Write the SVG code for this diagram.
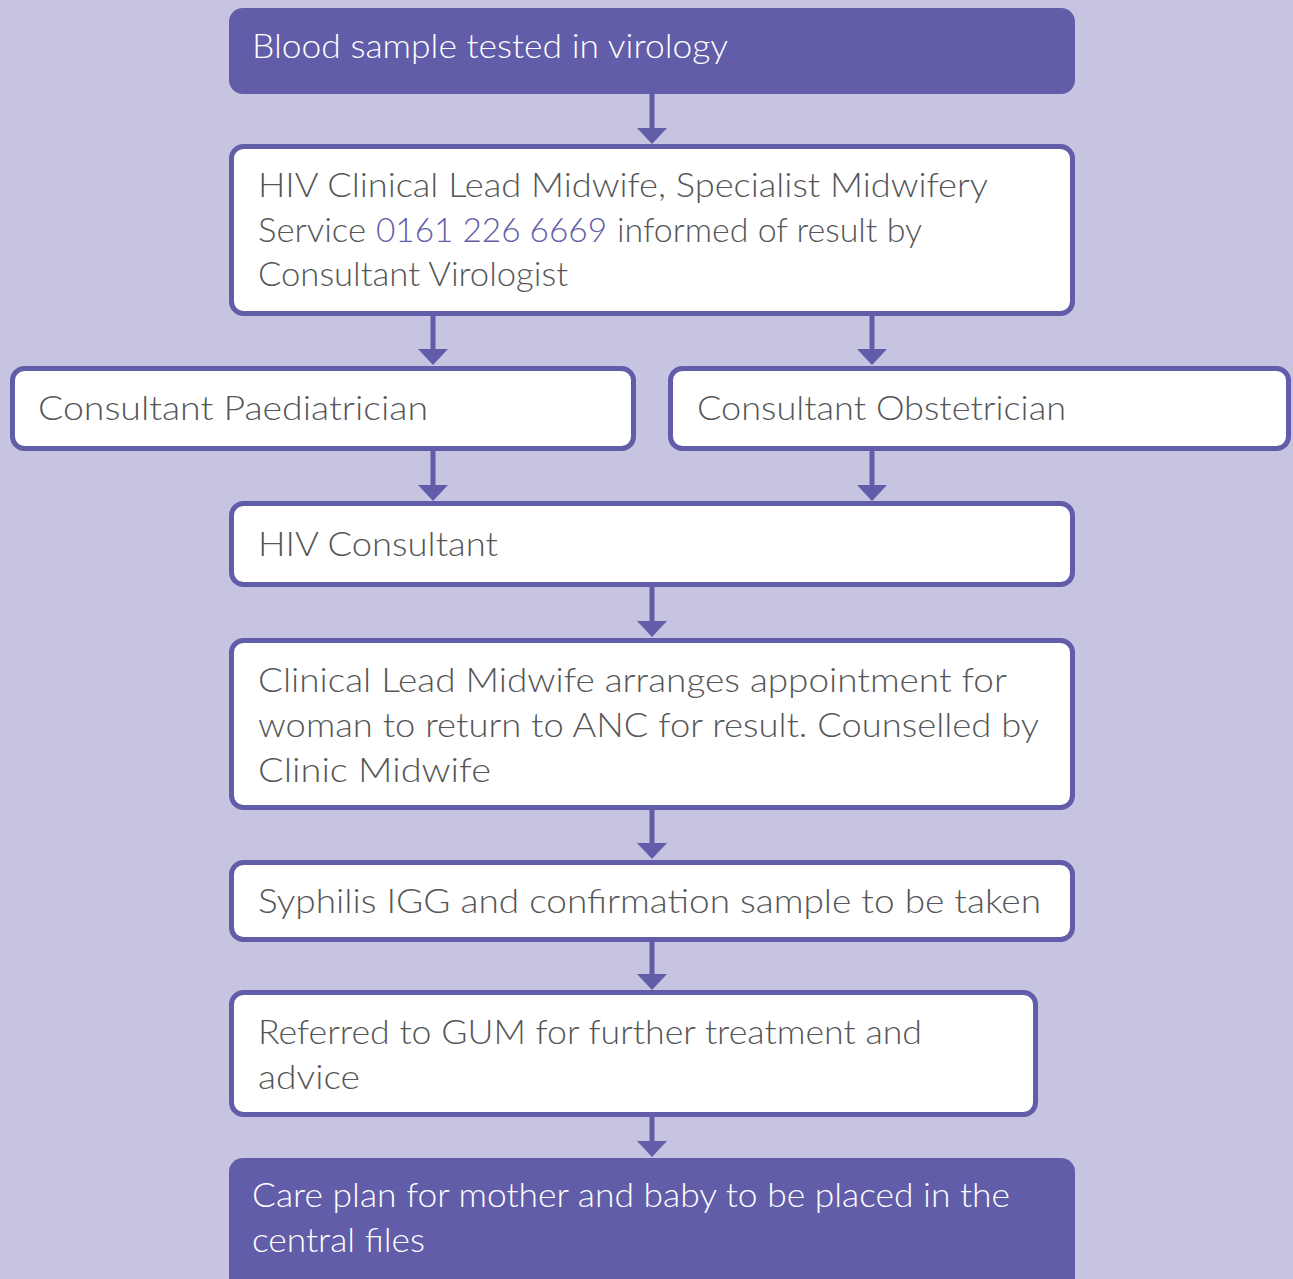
<svg xmlns="http://www.w3.org/2000/svg" width="1293" height="1279" viewBox="0 0 1293 1279">
  <style>
    .box { fill: #ffffff; stroke: #625DA9; stroke-width: 5; }
    .solid { fill: #625DA9; }
    .t { font-family: Lato, "Open Sans", "Liberation Sans", sans-serif; font-size: 33px; font-weight: 300; fill: #555658; }
    .tw { font-family: Lato, "Open Sans", "Liberation Sans", sans-serif; font-size: 33px; font-weight: 300; fill: #ffffff; }
    .num { fill: #625DA9; }
    .stem { stroke: #625DA9; stroke-width: 5; fill: none; }
    .head { fill: #625DA9; }
  </style>
  <rect width="1293" height="1279" fill="#C6C4E1"/>

  <g id="connectors">
    <!-- arrow: stem then triangular head, tip at the next box -->
    <path class="stem" d="M652 94V130"/><polygon class="head" points="637,128 667,128 652,144"/>
    <path class="stem" d="M433 316V351"/><polygon class="head" points="418,349 448,349 433,365"/>
    <path class="stem" d="M872 316V351"/><polygon class="head" points="857,349 887,349 872,365"/>
    <path class="stem" d="M433 451V487"/><polygon class="head" points="418,485 448,485 433,501"/>
    <path class="stem" d="M872 451V487"/><polygon class="head" points="857,485 887,485 872,501"/>
    <path class="stem" d="M652 587V623"/><polygon class="head" points="637,621 667,621 652,637"/>
    <path class="stem" d="M652 810V845"/><polygon class="head" points="637,843 667,843 652,859"/>
    <path class="stem" d="M652 942V976"/><polygon class="head" points="637,974 667,974 652,990"/>
    <path class="stem" d="M652 1108V1143"/><polygon class="head" points="637,1141 667,1141 652,1157"/>
  </g>

  <g id="blood-sample">
    <rect class="solid" x="229" y="8" width="846" height="86" rx="14"/>
    <text class="tw" x="252" y="58" textLength="476" lengthAdjust="spacingAndGlyphs">Blood sample tested in virology</text>
  </g>

  <g id="clinical-lead-informed">
    <rect class="box" x="231.5" y="146.5" width="841" height="167" rx="12"/>
    <text class="t" x="258" y="197" textLength="730" lengthAdjust="spacingAndGlyphs">HIV Clinical Lead Midwife, Specialist Midwifery</text>
    <text class="t" y="242"><tspan x="258" textLength="108" lengthAdjust="spacingAndGlyphs">Service</tspan><tspan class="num" x="376" textLength="231" lengthAdjust="spacingAndGlyphs">0161 226 6669</tspan><tspan x="617" textLength="305" lengthAdjust="spacingAndGlyphs">informed of result by</tspan></text>
    <text class="t" x="258" y="286" textLength="310" lengthAdjust="spacingAndGlyphs">Consultant Virologist</text>
  </g>

  <g id="paediatrician">
    <rect class="box" x="12.5" y="368.5" width="621" height="80" rx="12"/>
    <text class="t" x="38" y="420" textLength="390" lengthAdjust="spacingAndGlyphs">Consultant Paediatrician</text>
  </g>

  <g id="obstetrician">
    <rect class="box" x="670.5" y="368.5" width="618" height="80" rx="12"/>
    <text class="t" x="697" y="420" textLength="369" lengthAdjust="spacingAndGlyphs">Consultant Obstetrician</text>
  </g>

  <g id="hiv-consultant">
    <rect class="box" x="231.5" y="503.5" width="841" height="81" rx="12"/>
    <text class="t" x="258" y="556" textLength="240" lengthAdjust="spacingAndGlyphs">HIV Consultant</text>
  </g>

  <g id="appointment">
    <rect class="box" x="231.5" y="640.5" width="841" height="167" rx="12"/>
    <text class="t" x="258" y="692" textLength="749" lengthAdjust="spacingAndGlyphs">Clinical Lead Midwife arranges appointment for</text>
    <text class="t" x="258" y="737" textLength="781" lengthAdjust="spacingAndGlyphs">woman to return to ANC for result. Counselled by</text>
    <text class="t" x="258" y="782" textLength="233" lengthAdjust="spacingAndGlyphs">Clinic Midwife</text>
  </g>

  <g id="syphilis">
    <rect class="box" x="231.5" y="862.5" width="841" height="77" rx="12"/>
    <text class="t" x="258" y="913" textLength="783" lengthAdjust="spacingAndGlyphs">Syphilis IGG and confirmation sample to be taken</text>
  </g>

  <g id="gum-referral">
    <rect class="box" x="231.5" y="992.5" width="804" height="122" rx="12"/>
    <text class="t" x="258" y="1044" textLength="664" lengthAdjust="spacingAndGlyphs">Referred to GUM for further treatment and</text>
    <text class="t" x="258" y="1089" textLength="102" lengthAdjust="spacingAndGlyphs">advice</text>
  </g>

  <g id="care-plan">
    <rect class="solid" x="229" y="1158" width="846" height="140" rx="14"/>
    <text class="tw" x="252" y="1207" textLength="758" lengthAdjust="spacingAndGlyphs">Care plan for mother and baby to be placed in the</text>
    <text class="tw" x="252" y="1252" textLength="173" lengthAdjust="spacingAndGlyphs">central files</text>
  </g>
</svg>
